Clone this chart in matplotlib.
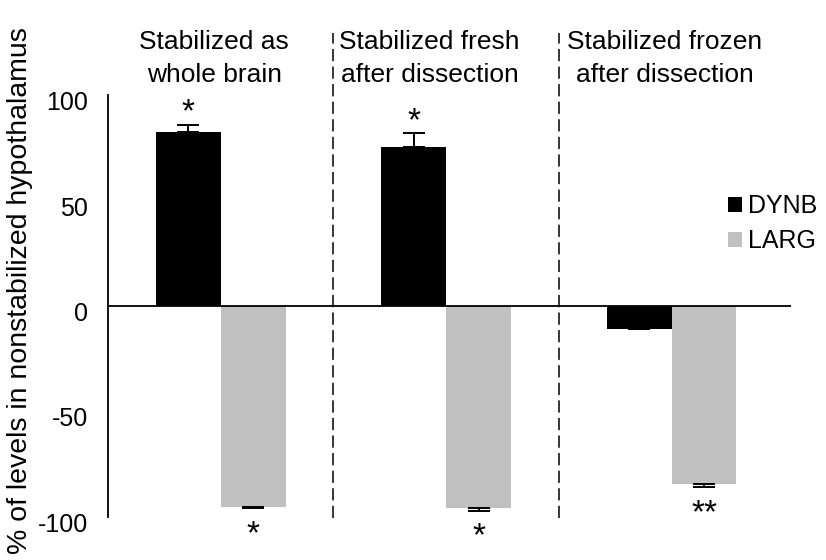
import matplotlib
matplotlib.use("Agg")
import matplotlib.pyplot as plt
import matplotlib.transforms as mtransforms
import numpy as np

plt.rcParams['font.family'] = ['Liberation Sans', 'DejaVu Sans']

# data
conditions = ["Stabilized as\nwhole brain",
              "Stabilized fresh\nafter dissection",
              "Stabilized frozen\nafter dissection"]
dynb = [82.2, 75.0, -11.1]
dynb_err = [3.4, 6.6, 0.0]
larg = [-95.4, -96.0, -84.7]
larg_err = [0.6, 1.3, 1.3]
dynb_marks = ["*", "*", ""]
larg_marks = ["*", "*", "**"]
yticks = [-100, -50, 0, 50, 100]

fig = plt.figure(figsize=(8.26, 5.6), dpi=100)
ax = fig.add_axes([108/826., (560-516.5)/560., (791-108)/826., (516.5-94.5)/560.])

x = np.arange(len(conditions))
w = 0.288
ax.bar(x - w/2, dynb, w, color="black", label="DYNB", zorder=2)
ax.bar(x + w/2, larg, w, color="#c0c0c0", label="LARG", zorder=2)

# one-sided error bars, away from zero
dyn_lo = [0 if v >= 0 else e for v, e in zip(dynb, dynb_err)]
dyn_hi = [e if v >= 0 else 0 for v, e in zip(dynb, dynb_err)]
ax.errorbar(x - w/2, dynb, yerr=[dyn_lo, dyn_hi], fmt="none", ecolor="black",
            elinewidth=1.4, capsize=8, capthick=1.4, zorder=3)
lar_lo = [e if v < 0 else 0 for v, e in zip(larg, larg_err)]
lar_hi = [0 if v < 0 else e for v, e in zip(larg, larg_err)]
ax.errorbar(x + w/2, larg, yerr=[lar_lo, lar_hi], fmt="none", ecolor="black",
            elinewidth=1.4, capsize=8, capthick=1.4, zorder=3)

# significance marks
for i in range(len(x)):
    if dynb_marks[i]:
        ax.text(x[i] - w/2, dynb[i] + dynb_err[i] + 1.5, dynb_marks[i],
                ha="center", va="baseline", fontsize=24)
    if larg_marks[i]:
        ax.text(x[i] + w/2, larg[i] - larg_err[i] - 16.5, larg_marks[i],
                ha="center", va="baseline", fontsize=24)

ax.set_xlim(-0.5, 2.53)
ax.set_ylim(-100, 100)
ax.axhline(0, color="black", lw=1.3, zorder=4)

# dashed separators running up into the header
for sx in [0.5, 1.5]:
    ax.plot([sx, sx], [-100.5, 129], color="black", lw=1.1, ls=(0, (8, 3.5)),
            clip_on=False, zorder=1)

# headers
title_x = [-0.029, -0.073, -0.031]
head_tr = mtransforms.blended_transform_factory(ax.transData, fig.transFigure)
for tx, lab in zip(title_x + x, conditions):
    ax.text(tx, 1 - 82/560., lab, ha="center", va="baseline", fontsize=19,
            linespacing=1.47, transform=head_tr)

ax.set_yticks(yticks)
ax.set_yticklabels([str(t) for t in yticks], fontsize=18)
ax.tick_params(axis="y", length=0, pad=14.5)
ax.set_xticks([])
offset = mtransforms.ScaledTranslation(0, -6/100., fig.dpi_scale_trans)
for lbl in ax.get_yticklabels():
    lbl.set_transform(lbl.get_transform() + offset)

for s in ["top", "right", "bottom"]:
    ax.spines[s].set_visible(False)
ax.spines["left"].set_linewidth(1.3)
ax.spines["left"].set_bounds(-100, 100)

fig.text(20/826., 1 - 291/560., "% of levels in nonstabilized hypothalamus", rotation=90,
         ha="center", va="center", fontsize=20.5)

ax.legend(loc="upper left", bbox_to_anchor=(728/826., 1 - 194/560.),
          bbox_transform=fig.transFigure, frameon=False, fontsize=18,
          handlelength=0.56, handleheight=0.56, handletextpad=0.25,
          labelspacing=0.46, borderpad=0, borderaxespad=0)

fig.savefig("out.png", dpi=100)
